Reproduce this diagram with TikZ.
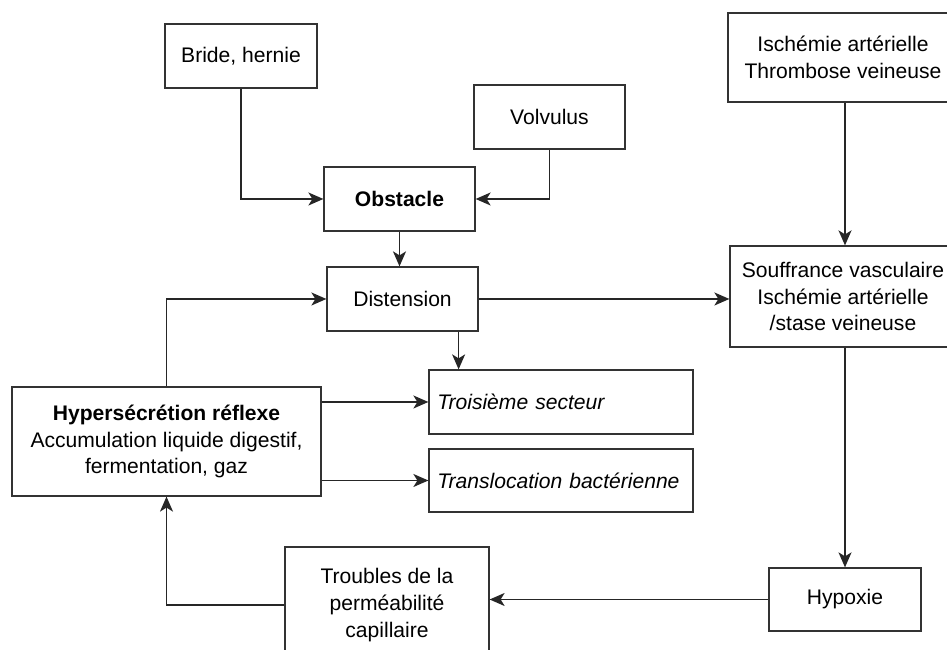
\documentclass[tikz,border=0pt]{standalone}
\usepackage{fontspec}
\setmainfont{Liberation Sans}
\usepackage{tikz}
\usetikzlibrary{arrows.meta}

\begin{document}
\begin{tikzpicture}[
    every node/.style={font=\fontsize{12}{15.2}\selectfont},
    box/.style={draw=black!80, line width=0.7pt, align=center, inner sep=2pt},
    arr/.style={draw=black!85, line width=0.9pt, -{Stealth[length=3mm,width=2.6mm,inset=0.8mm]}}
  ]
    % Frame of the figure
    \useasboundingbox (0,0) rectangle (18.94,13);
    \clip (0,0) rectangle (18.94,13);

    % Causes of the obstacle
    \node[box, minimum width=3.04cm, minimum height=1.28cm] (bride) at (4.82,11.88) {Bride, hernie};
    \node[box, minimum width=3.02cm, minimum height=1.28cm] (volvulus) at (10.99,10.66) {Volvulus};
    \node[box, minimum width=3.02cm, minimum height=1.28cm] (obstacle) at (7.99,9.02) {\textbf{Obstacle}};
    \node[box, minimum width=3.02cm, minimum height=1.28cm] (distension) at (8.05,7.02) {Distension};

    % Vascular side (boxes run past the right edge)
    \node[box, minimum width=4.6cm, minimum height=1.78cm] (ischemie) at (16.86,11.85)
        {Ischémie artérielle\\Thrombose veineuse};
    \node[box, minimum width=4.52cm, minimum height=2.02cm] (souffrance) at (16.86,7.07)
        {Souffrance vasculaire\\Ischémie artérielle\\/stase veineuse};
    \node[box, minimum width=3.04cm, minimum height=1.26cm] (hypoxie) at (16.9,1.01) {Hypoxie};

    % Consequences
    \node[box, minimum width=6.18cm, minimum height=2.18cm] (hyper) at (3.33,4.17)
        {\textbf{Hypersécrétion réflexe}\\Accumulation liquide digestif,\\fermentation, gaz};
    \node[box, text width=4.95cm, inner xsep=0.165cm, align=left, minimum height=1.28cm] (troisieme) at (11.22,4.96)
        {\textit{Troisième secteur}};
    \node[box, text width=4.95cm, inner xsep=0.165cm, align=left, minimum height=1.26cm] (translocation) at (11.22,3.39)
        {\mbox{\textit{Translocation bactérienne}}};
    \node[box, minimum width=4.08cm, minimum height=2.32cm] (troubles) at (7.74,0.9)
        {Troubles de la\\perméabilité\\capillaire};

    % Connectors
    \draw[arr] (bride.south) |- (obstacle.west);
    \draw[arr] (volvulus.south) |- (obstacle.east);
    \draw[arr] (obstacle.south) -- (obstacle.south |- distension.north);
    \draw[arr] (hyper.north) |- (distension.west);
    \draw[arr] (distension.east) -- (distension.east -| souffrance.west);
    \draw[arr] ([xshift=-0.4cm]distension.south east) -- ([xshift=-0.4cm]distension.south east |- troisieme.north);
    \draw[arr] (hyper.east |- troisieme.west) -- (troisieme.west);
    \draw[arr] (hyper.east |- translocation.west) -- (translocation.west);
    \draw[arr] (ischemie.south -| hypoxie.north) -- (souffrance.north -| hypoxie.north);
    \draw[arr] (souffrance.south -| hypoxie.north) -- (hypoxie.north);
    \draw[arr] (hypoxie.west) -- (hypoxie.west -| troubles.east);
    \draw[arr] (troubles.west) -| (hyper.south);
\end{tikzpicture}
\end{document}
